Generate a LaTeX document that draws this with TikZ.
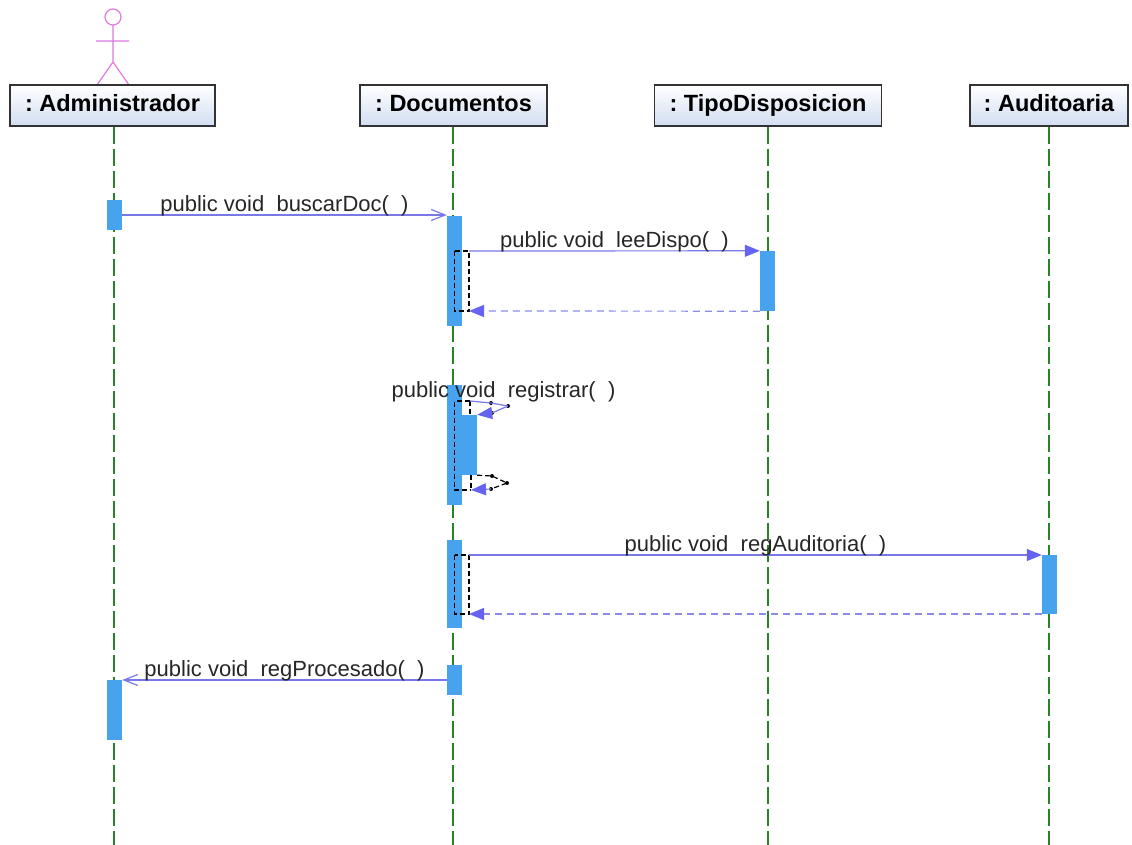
\documentclass[tikz,border=0pt]{standalone}
\usepackage{fontspec}
\setmainfont{Liberation Sans}
\usetikzlibrary{arrows.meta}
\frenchspacing
\definecolor{lifegreen}{RGB}{40,130,40}
\definecolor{actblue}{RGB}{72,163,238}
\definecolor{msgline}{RGB}{120,120,230}
\definecolor{msghead}{RGB}{100,100,240}
\definecolor{retline}{RGB}{140,140,230}
\definecolor{hdfill}{RGB}{210,222,242}
\definecolor{actorpink}{RGB}{225,120,225}
\tikzset{head/.style={rectangle, draw=black!80, line width=1.2pt, top color=white, bottom color=hdfill,
   minimum height=41pt, inner sep=0pt, text height=17pt, text depth=4pt,
   font=\fontsize{23.5}{27}\selectfont\bfseries}}
\tikzset{act/.style={rectangle, fill=actblue, inner sep=0pt, minimum width=15pt}}
\tikzset{life/.style={lifegreen, line width=1.4pt, dash pattern=on 17pt off 5pt}}
\tikzset{call/.style={msgline, line width=1.2pt, -{Straight Barb[length=14pt,width=11pt]}}}
\tikzset{sync/.style={msgline, line width=1.2pt, -{Triangle[length=15pt,width=12pt,color=msghead]}}}
\tikzset{ret/.style={retline, line width=1.2pt, dash pattern=on 7pt off 5pt, -{Triangle[length=15pt,width=12pt,color=msghead]}}}
\tikzset{bdash/.style={black, line width=1.2pt, dash pattern=on 5pt off 3pt}}
\tikzset{lbl/.style={font=\fontsize{22}{26}\selectfont, text=black!85, inner sep=0pt}}
\tikzset{dot/.style={circle, fill=black, inner sep=0pt, minimum size=4pt}}

\begin{document}
\begin{tikzpicture}[x=1pt, y=-1pt]

    \useasboundingbox (0,0) rectangle (1132,845);

    \draw[actorpink, line width=1.2pt] (113,17) circle[radius=8pt]
        (113,25) -- (113,62) (96,41) -- (129,41)
        (97,85) -- (113,62) -- (129,85);

    \node[head, minimum width=205pt] (hA) at (112.5,105.5) {: Administrador};
    \node[head, minimum width=187pt] (hD) at (453.5,105.5) {: Documentos};
    \node[head, minimum width=227pt] (hT) at (768,105.5) {: TipoDisposicion};
    \node[head, minimum width=158pt] (hU) at (1049,105.5) {: Auditoaria};

    \coordinate (eA) at (114,845);
    \coordinate (eD) at (453,845);
    \coordinate (eT) at (768,845);
    \coordinate (eU) at (1049,845);
    \draw[life] (hA.south -| eA) -- (eA);
    \draw[life] (hD.south -| eD) -- (eD);
    \draw[life] (hT.south -| eT) -- (eT);
    \draw[life] (hU.south -| eU) -- (eU);

    \node[act, minimum height=30pt] (aA1) at (114.5,215) {};
    \node[act, minimum height=110pt] (aD1) at (454.5,271) {};
    \node[act, minimum height=60pt] (aT1) at (767.5,281) {};
    \node[act, minimum height=120pt] (aD2) at (454.5,445) {};
    \node[act, minimum height=60pt] (aN) at (469.5,445) {};
    \node[act, minimum height=88pt] (aD3) at (454.5,584) {};
    \node[act, minimum height=59pt] (aU1) at (1049.5,584) {};
    \node[act, minimum height=30pt] (aD4) at (454.5,680) {};
    \node[act, minimum height=60pt] (aA2) at (114.5,710) {};

    \draw[call] (aA1.east) -- (aA1.east -| aD1.west)
        node[midway, above=-1.5pt, lbl] {public void\ \ buscarDoc(\ \ )};

    \coordinate (b1t) at (469,251);
    \coordinate (b1b) at (469,311);
    \draw[bdash] (aD1.center |- b1t) rectangle (b1b);
    \draw[sync] (b1t) -- (aT1.north west)
        node[midway, above=-1.5pt, lbl] {public void\ \ leeDispo(\ \ )};
    \draw[ret] (aT1.south west) -- (b1b);

    \coordinate (s0) at (470,401);
    \coordinate (r0) at (471,490);
    \node[dot] (p1) at (491,403) {};
    \node[dot] (p2) at (508,406) {};
    \node[dot] (p3) at (492,413) {};
    \node[dot] (q1) at (492,476) {};
    \node[dot] (q2) at (507,483) {};
    \node[dot] (q3) at (491,489) {};
    \node[lbl, anchor=base] (lR) at (503.5,397) {public void\ \ registrar(\ \ )};
    \draw[bdash] (s0) -- (aD2.center |- s0) -- (aD2.center |- r0) -- (r0);
    \draw[bdash] (s0) -- (s0 |- aN.north);
    \draw[bdash] (r0 |- aN.south) -- (r0);
    \draw[msgline, line width=1.2pt] (s0) -- (p1.center) -- (p2.center);
    \draw[sync] (p2.center) -- (p3.center) -- (aN.north east);
    \draw[bdash] (aN.south east) -- (q1.center) -- (q2.center) -- (q3.center);
    \draw[ret] (q3.center) -- (r0);

    \coordinate (b3t) at (469,555);
    \coordinate (b3b) at (469,614);
    \draw[bdash] (aD3.center |- b3t) rectangle (b3b);
    \draw[sync] (b3t) -- (b3t -| aU1.west)
        node[midway, above=-1.5pt, lbl] {public void\ \ regAuditoria(\ \ )};
    \draw[ret] (b3b -| aU1.west) -- (b3b);

    \draw[call] (aD4.west) -- (aD4.west -| aA2.east)
        node[midway, above=-1.5pt, lbl] {public void\ \ regProcesado(\ \ )};

\end{tikzpicture}
\end{document}
